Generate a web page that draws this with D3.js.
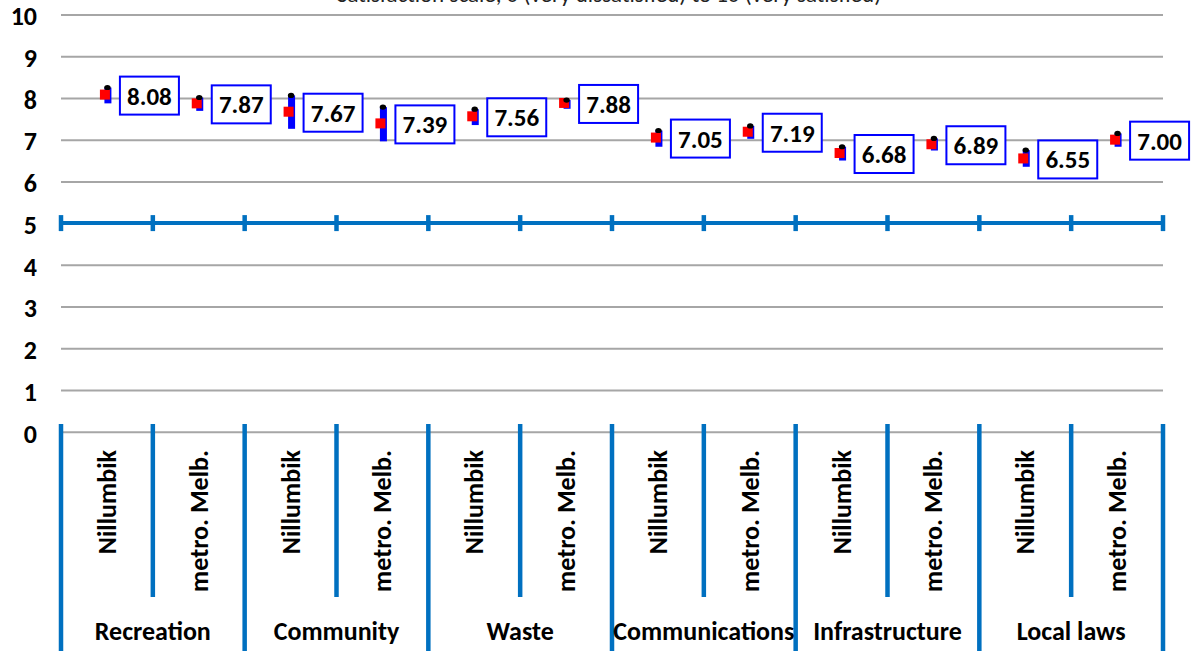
<!DOCTYPE html>
<html>
<head>
<meta charset="utf-8">
<script src="https://cdn.jsdelivr.net/npm/d3@7"></script>
<style>
  html, body { margin: 0; padding: 0; background: #fff; }
  svg { display: block; }
  text { font-family: Carlito, Lato, "Open Sans", sans-serif; }
</style>
</head>
<body>
<svg id="chart" width="1193" height="651"></svg>
<script>
// ---- data ----
const groups = ["Recreation", "Community", "Waste", "Communications", "Infrastructure", "Local laws"];
const areas = ["Nillumbik", "metro. Melb."];
const means = [8.08, 7.87, 7.67, 7.39, 7.56, 7.88, 7.05, 7.19, 6.68, 6.89, 6.55, 7.00];
const highs = [8.25, 8.01, 8.06, 7.78, 7.73, 7.95, 7.22, 7.33, 6.83, 7.03, 6.75, 7.15];
const lows  = [7.87, 7.69, 7.26, 6.96, 7.35, 7.74, 6.83, 7.02, 6.50, 6.74, 6.35, 6.83];
const yTicks = [0, 1, 2, 3, 4, 5, 6, 7, 8, 9, 10];
const title = "Satisfaction scale, 0 (very dissatisfied) to 10 (very satisfied)";

// ---- layout ----
const svg = d3.select("#chart");
const plotLeft = 61, plotRight = 1163, plotTop = 14.5, plotBottom = 431.7;

const items = [];
groups.forEach((g, gi) => areas.forEach((a, ai) => {
  const i = gi * areas.length + ai;
  items.push({ key: i, group: g, area: a, mean: means[i], high: highs[i], low: lows[i] });
}));

const x = d3.scaleBand().domain(items.map(d => d.key)).range([plotLeft, plotRight]).paddingInner(0).paddingOuter(0);
const y = d3.scaleLinear().domain([0, 10]).range([plotBottom, plotTop]);
const bw = x.bandwidth();
const cx = d => x(d.key) + bw / 2;

const blue = "#0070C0";

// title (cropped at top, as in the source image)
svg.append("text")
  .attr("x", 609).attr("y", 2)
  .attr("text-anchor", "middle")
  .attr("font-size", 23)
  .attr("fill", "#222")
  .text(title);

// gridlines + y labels
const yAxis = svg.append("g")
  .attr("transform", `translate(${plotLeft},0)`)
  .call(d3.axisLeft(y).tickValues(yTicks).tickSize(-(plotRight - plotLeft)).tickFormat(d3.format("d")));
yAxis.select(".domain").remove();
yAxis.selectAll(".tick line").attr("stroke", "#a6a6a6").attr("stroke-width", 2);
yAxis.selectAll(".tick text")
  .attr("x", -24)
  .attr("y", 2)
  .attr("font-size", 26)
  .attr("font-weight", "bold")
  .attr("fill", "#000")
  .attr("font-family", "Carlito, Lato, sans-serif");

// category axis crossing at 5
const dividers = d3.range(items.length + 1).map(i => i === items.length ? plotRight : x(items[i].key));
const y5 = y(5);
svg.append("line")
  .attr("x1", plotLeft).attr("x2", plotRight)
  .attr("y1", y5).attr("y2", y5)
  .attr("stroke", blue).attr("stroke-width", 4);
svg.selectAll("line.tick5").data(dividers).enter().append("line")
  .attr("class", "tick5")
  .attr("x1", d => d).attr("x2", d => d)
  .attr("y1", y5 - 8).attr("y2", y5 + 8)
  .attr("stroke", blue).attr("stroke-width", 4.5);

// category dividers below the plot
svg.selectAll("line.div").data(dividers).enter().append("line")
  .attr("class", "div")
  .attr("x1", d => d).attr("x2", d => d)
  .attr("y1", 424)
  .attr("y2", (d, i) => i % 2 === 0 ? 651 : 597)
  .attr("stroke", blue).attr("stroke-width", 4.5);

// area labels (rotated)
svg.selectAll("text.area").data(items).enter().append("text")
  .attr("class", "area")
  .attr("transform", d => `translate(${cx(d) + 9},450) rotate(-90)`)
  .attr("text-anchor", "end")
  .attr("font-size", 26)
  .attr("font-weight", "bold")
  .attr("fill", "#000")
  .text(d => d.area);

// group labels
svg.selectAll("text.group").data(groups).enter().append("text")
  .attr("class", "group")
  .attr("x", (g, gi) => x(gi * 2) + bw)
  .attr("y", 640)
  .attr("text-anchor", "middle")
  .attr("font-size", 26)
  .attr("font-weight", "bold")
  .attr("fill", "#000")
  .text(g => g);

// marks
const mk = svg.append("g");
mk.selectAll("rect.range").data(items).enter().append("rect")
  .attr("x", d => cx(d) - 2.5).attr("width", 7)
  .attr("y", d => y(d.high)).attr("height", d => y(d.low) - y(d.high))
  .attr("fill", "#0000FF");
mk.selectAll("rect.mean").data(items).enter().append("rect")
  .attr("x", d => cx(d) - 7).attr("width", 10)
  .attr("y", d => y(d.mean) - 5).attr("height", 10)
  .attr("fill", "#FF0000");
mk.selectAll("ellipse.hi").data(items).enter().append("ellipse")
  .attr("cx", d => cx(d) + 0.5).attr("cy", d => y(d.high))
  .attr("rx", 3.2).attr("ry", 2.6)
  .attr("fill", "#000");

// value labels
const lab = mk.selectAll("g.lab").data(items).enter().append("g")
  .attr("transform", d => `translate(${cx(d) + 13},${y(d.mean) - 18})`);
lab.append("rect")
  .attr("width", 59).attr("height", 38)
  .attr("fill", "#fff").attr("stroke", "#0000FF").attr("stroke-width", 2);
lab.append("text")
  .attr("x", 29.5).attr("y", 28)
  .attr("text-anchor", "middle")
  .attr("font-size", 25)
  .attr("font-weight", "bold")
  .attr("fill", "#000")
  .text(d => d.mean.toFixed(2));
</script>
</body>
</html>
